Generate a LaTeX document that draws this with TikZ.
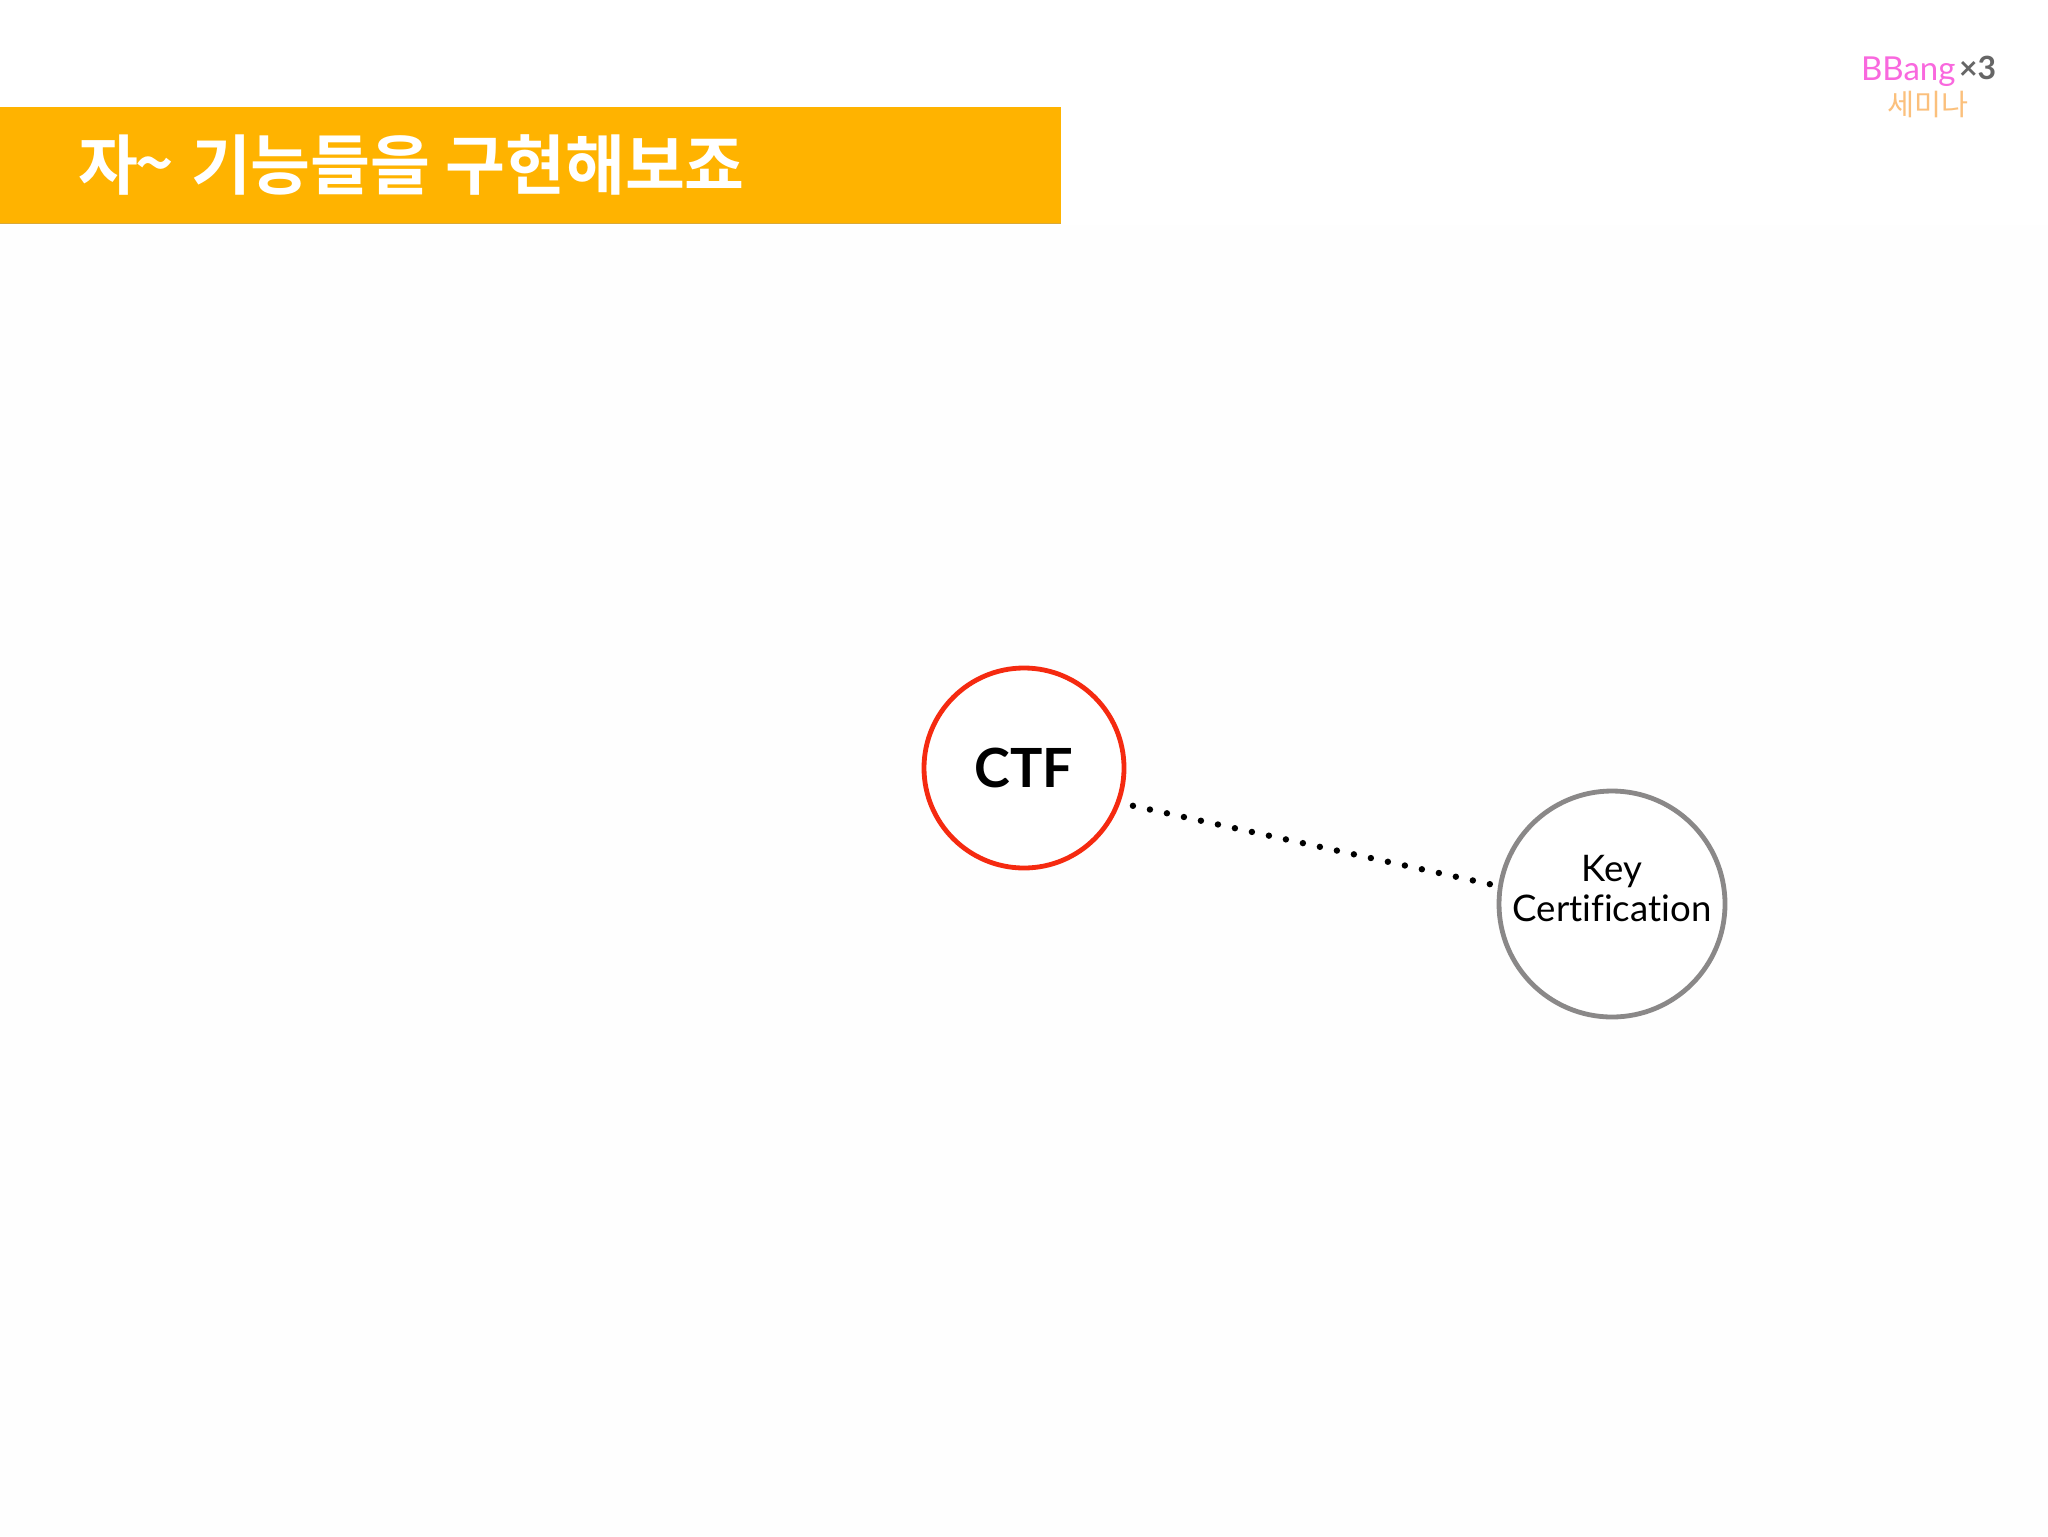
\documentclass[tikz,border=0pt]{standalone}
\usepackage{fontspec}
\setmainfont[Ligatures=NoCommon]{Lato}
\newfontfamily\krfont{Noto Sans CJK KR}
\newfontfamily\krbold{Noto Sans CJK KR Bold}
\definecolor{banner}{HTML}{FFB300}
\definecolor{bannerline}{HTML}{D9A93A}
\definecolor{ctfred}{HTML}{F52A10}
\definecolor{keygray}{HTML}{8A8888}
\definecolor{logopink}{HTML}{F968DE}
\definecolor{logogray}{HTML}{666666}
\definecolor{logoorange}{HTML}{FBC07C}
\tikzset{
  x=0.5pt,y=-0.5pt,
  ring/.style={circle,fill=white,line width=2.4pt,inner sep=0pt,align=center,text=black},
  dotline/.style={line width=3.2pt,line cap=round,dash pattern=on 0pt off 8.7pt,draw=black,shorten <=6.5pt,shorten >=3pt},
  plain/.style={inner sep=0pt,outer sep=0pt}
}
\begin{document}
\begin{tikzpicture}
\useasboundingbox (0,0) rectangle (2048,1536);
\fill[white!99.5!black] (0,0) rectangle (2048,1536);
\fill[white] (0,0) rectangle (2048,225);
\fill[bannerline] (0,107) rectangle (1061,224);
\fill[banner] (0,107) rectangle (1061,222.5);
\node[plain,anchor=west,text=white,font=\krbold\fontsize{32pt}{36pt}\selectfont,xscale=1.017,yscale=1.02] (title) at (78,165) {자\raisebox{1pt}{\fontsize{32pt}{32pt}\selectfont\kern-1pt\~{}}\kern1pt{} 기능들을 구현해보죠};
\node[ring,draw=ctfred,minimum size=100pt,font=\bfseries\fontsize{27pt}{30pt}\selectfont] (ctf) at (1024,768) {CTF};
\node[ring,draw=keygray,minimum size=113pt] (key) at (1612,904) {};
\node[plain,align=center,font=\fontsize{18.3pt}{20pt}\selectfont] (keylabel) at (1612,889) {Key\\Certification};
\draw[dotline] (ctf.-20) -- (key.171);
\node[plain,anchor=west,text=logopink,font=\fontsize{16.5pt}{18pt}\selectfont] (bbang) at (1861,72) {BBang};
\node[plain,anchor=west,text=logogray,font=\bfseries\fontsize{16pt}{18pt}\selectfont] (times) at (1959,68) {×3};
\node[plain,text=logoorange,font=\krfont\fontsize{14.7pt}{16pt}\selectfont] (seminar) at (1928,105) {세미나};
\end{tikzpicture}
\end{document}
